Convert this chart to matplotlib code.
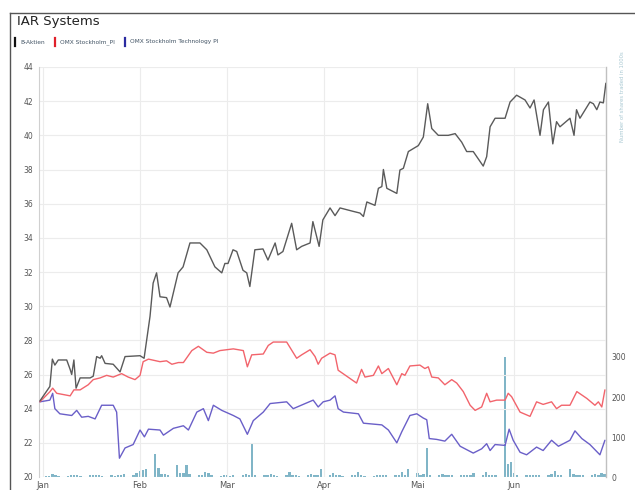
import matplotlib
matplotlib.use("Agg")
import matplotlib.pyplot as plt
from matplotlib.lines import Line2D
import pandas as pd
import numpy as np

# ---------------- data ----------------
title = "IAR Systems"
series_names = ["B-Aktien", "OMX Stockholm_PI", "OMX Stockholm Technology PI"]
month_labels = ["Jan", "Feb", "Mar", "Apr", "Mai", "Jun"]
month_days = [0, 31, 59, 90, 120, 151]          # days since 2017-01-01
left_ticks = [20, 22, 24, 26, 28, 30, 32, 34, 36, 38, 40, 42, 44]
right_ticks = [0, 100, 200, 300]

# B-Aktien (days since 2017-01-01, price)
days_b = [-1, 2.2, 3.0, 3.8, 4.9, 7.6, 8.7, 9.2, 9.9, 10.6, 11.9, 15.1, 16.1, 17.2, 18.3,
          18.8, 19.9, 22.5, 24.7, 26.3, 31.1, 32.4, 34.3, 35.3, 36.4, 37.5, 39.6, 40.7, 43.3, 44.9,
          47.1, 50.3, 52.5, 55.1, 57.3, 58.3, 59.3, 60.9, 62.1, 64.1, 65.3, 66.3, 67.9, 70.5, 72.1,
          74.4, 75.3, 76.9, 79.7, 81.3, 82.9, 85.6, 86.5, 88.5, 89.7, 92.0, 93.6, 95.2, 99.4, 101.6,
          102.7, 103.8, 106.4, 107.5, 108.6, 109.1, 110.2, 113.4, 114.4, 115.5, 117.1, 120.3, 121.9,
          123.3, 124.6, 126.7, 129.9, 132.1, 134.2, 135.8, 137.9, 141.1, 142.2, 143.3, 144.9, 148.1,
          149.7, 151.8, 154.5, 156.1, 157.4, 159.3, 160.4, 162.0, 163.4, 164.6, 165.7, 168.9, 170.2,
          171.0, 172.1, 175.3, 176.4, 177.5, 178.5, 179.6, 180.4]
vals_b = [24.45, 25.3, 26.9, 26.55, 26.85, 26.85, 26.3, 26.0, 26.85, 25.2, 25.8, 25.8, 25.9, 27.05, 26.95,
          27.1, 26.65, 26.6, 26.15, 27.05, 27.1, 26.95, 29.4, 31.35, 31.95, 30.55, 30.5, 29.95, 31.95, 32.3,
          33.7, 33.7, 33.3, 32.3, 31.95, 32.5, 32.5, 33.3, 33.2, 32.1, 31.95, 31.15, 33.3, 33.35, 32.7,
          33.7, 33.0, 33.2, 34.85, 33.3, 33.5, 33.7, 34.95, 33.5, 35.05, 35.75, 35.3, 35.75, 35.55, 35.45,
          35.25, 36.1, 35.9, 36.9, 37.0, 38.0, 36.9, 36.6, 37.97, 38.07, 39.05, 39.4, 39.9,
          41.85, 40.4, 40.0, 40.0, 40.1, 39.6, 39.05, 39.05, 38.2, 38.75, 40.5, 41.0, 41.0,
          41.95, 42.35, 42.07, 41.6, 42.07, 40.0, 41.5, 41.95, 39.5, 40.8, 40.5, 41.0, 40.0,
          41.5, 41.0, 41.95, 41.85, 41.5, 41.95, 41.9, 43.05]

# OMX Stockholm_PI (rebased to the price scale)
days_r = [-1, 2.2, 3.1, 4.4, 8.7, 9.9, 11.9, 14.5, 16.1, 18.3, 20.4, 22.5, 25.2, 27.3, 29.5, 31.1,
          32.1, 33.8, 37.5, 39.6, 41.3, 43.4, 45.0, 47.7, 49.8, 52.5, 54.6, 56.7, 61.0, 64.2, 65.5,
          66.9, 70.6, 72.2, 73.8, 78.1, 81.3, 82.9, 85.6, 87.2, 88.2, 89.3, 92.0, 93.6, 94.6, 100.5,
          102.1, 103.2, 105.9, 107.5, 108.6, 110.7, 113.4, 115.0, 116.0, 117.6, 120.8, 122.4, 123.5,
          124.6, 126.7, 128.8, 131.0, 132.6, 134.7, 136.9, 138.5, 140.6, 142.2, 143.3, 145.4, 148.1,
          149.1, 150.2, 152.9, 156.1, 158.2, 160.3, 163.0, 164.6, 166.2, 168.9, 171.1, 174.3, 176.9,
          178.0, 179.1, 180.1]
vals_r = [24.4, 24.99, 25.2, 24.9, 24.75, 25.1, 25.1, 25.4, 25.7, 25.8, 25.95, 25.85, 26.05, 25.85, 25.7, 25.95,
          26.75, 26.9, 26.75, 26.8, 26.6, 26.7, 26.7, 27.4, 27.65, 27.3, 27.25, 27.4, 27.5, 27.4, 26.45,
          27.15, 27.2, 27.7, 27.9, 27.9, 26.95, 27.15, 27.45, 27.05, 26.6, 26.95, 27.25, 27.15, 26.25, 25.5,
          26.3, 25.85, 25.95, 26.5, 26.05, 26.35, 25.4, 26.05, 25.95, 26.5, 26.55, 26.35, 26.45,
          25.85, 25.8, 25.4, 25.7, 25.5, 25.0, 24.2, 23.9, 24.1, 24.9, 24.4, 24.5, 24.5,
          24.9, 24.7, 23.8, 23.55, 24.4, 24.25, 24.4, 24.0, 24.2, 24.2, 25.0, 24.6, 24.2,
          24.4, 24.1, 25.1]

# OMX Stockholm Technology PI (rebased to the price scale)
days_t = [-1, 2.2, 3.1, 3.8, 5.4, 9.2, 10.8, 12.4, 14.5, 16.7, 18.8, 22.5, 23.6, 24.5, 26.3, 28.9,
          31.1, 32.5, 33.8, 37.5, 38.6, 41.8, 45.0, 46.6, 49.3, 51.4, 53.0, 54.6, 57.3, 61.0, 63.1,
          65.5, 67.4, 70.6, 72.8, 78.1, 80.2, 86.6, 88.2, 89.8, 92.0, 93.6, 94.6, 96.3, 101.1, 102.7,
          108.6, 110.7, 113.4, 115.0, 117.6, 119.8, 121.9, 123.0, 123.8, 126.2, 128.8, 131.0, 133.7,
          137.9, 140.6, 142.2, 143.3, 144.9, 148.1, 149.4, 150.7, 152.9, 155.0, 158.2, 160.3, 163.0,
          165.2, 168.9, 170.5, 172.7, 175.3, 178.5, 180.1]
vals_t = [24.4, 24.5, 24.9, 24.0, 23.7, 23.6, 23.9, 23.5, 23.55, 23.4, 24.2, 24.2, 23.8, 21.1, 21.7, 21.9,
          22.75, 22.35, 22.8, 22.75, 22.45, 22.85, 23.0, 22.75, 23.8, 24.0, 23.3, 24.2, 23.9, 23.6, 23.4,
          22.5, 23.3, 23.8, 24.3, 24.4, 24.0, 24.5, 24.1, 24.4, 24.5, 24.75, 24.0, 23.8, 23.7, 23.15,
          23.05, 22.75, 22.0, 22.65, 23.6, 23.7, 23.45, 23.35, 22.25, 22.2, 22.1, 22.5, 21.8,
          21.4, 21.65, 21.95, 21.55, 21.9, 21.85, 22.8, 22.15, 21.45, 21.3, 21.75, 21.55, 22.15,
          21.8, 22.15, 22.7, 22.25, 21.9, 21.3, 22.15]

# Daily volume (thousands of shares), one per weekday 2017-01-02 .. 2017-06-30
volume = [
    # Jan
    2, 3, 7, 6, 3, 3, 4, 5, 4, 3, 5, 6, 5, 4, 3, 4, 3, 5, 6, 8, 5, 11,
    # Feb
    15, 17, 19, 57, 23, 8, 7, 6, 29, 11, 10, 29, 8, 4, 5, 12, 10, 5, 3, 4,
    # Mar
    4, 3, 4, 5, 8, 5, 83, 4, 4, 5, 7, 4, 3, 5, 12, 6, 4, 3, 4, 8, 5, 4, 19,
    # Apr
    6, 11, 5, 4, 3, 4, 5, 13, 5, 3, 3, 5, 6, 4, 5, 4, 6, 13, 5, 19,
    # Mai
    11, 4, 8, 73, 6, 5, 7, 6, 4, 5, 4, 6, 5, 4, 11, 5, 13, 6, 4, 5, 300, 33, 38,
    # Jun
    11, 6, 4, 5, 6, 4, 5, 6, 8, 15, 6, 5, 19, 8, 5, 4, 5, 4, 8, 6, 9, 8,
]
vol_dates = pd.bdate_range("2017-01-02", "2017-06-30")
vol_days = np.asarray((vol_dates - pd.Timestamp("2017-01-01")).days, dtype=float)

# ---------------- figure ----------------
W, H = 635, 490
fig = plt.figure(figsize=(W / 100, H / 100), dpi=100)
fig.patch.set_facecolor("white")

x0, x1, ytop, ybot = 39, 606, 67, 477
ax2 = fig.add_axes([x0 / W, 1 - ybot / H, (x1 - x0) / W, (ybot - ytop) / H])   # volume
ax = fig.add_axes(ax2.get_position(), sharex=ax2)                               # prices
ax.patch.set_visible(False)
ax2.patch.set_visible(False)

# volume bars
ax2.bar(vol_days, volume, width=0.75, color="#80b5c7", edgecolor="none", zorder=2)
ax2.set_ylim(0, 1025)
ax2.yaxis.tick_right()
ax2.set_yticks(right_ticks)
ax2.set_yticklabels([str(t) for t in right_ticks])
ax2.tick_params(axis="y", length=0, pad=4, labelsize=5.5, labelcolor="#555555")
ax2.tick_params(axis="x", length=0, labelbottom=False)
for s in ["top", "bottom", "left"]:
    ax2.spines[s].set_visible(False)
ax2.spines["right"].set_color("#c0c0c0")
ax2.spines["right"].set_linewidth(1.0)

# price lines
kw = dict(lw=1.0, solid_joinstyle="round", solid_capstyle="round")
ax.plot(days_t, vals_t, color="#6a5fc8", zorder=3, **kw)
ax.plot(days_r, vals_r, color="#f2646c", zorder=3, **kw)
ax.plot(days_b, vals_b, color="#5a5a5a", zorder=4, **kw)

ax.set_ylim(20, 44)
ax.set_xlim((x0 - 43) / 3.12, (x1 - 43) / 3.12)
ax.set_yticks(left_ticks)
ax.set_yticklabels([str(t) for t in left_ticks])
ax.tick_params(axis="y", length=0, pad=4, labelsize=5.5, labelcolor="#555555")
ax.set_xticks(month_days)
ax.set_xticklabels(month_labels)
ax.tick_params(axis="x", length=0, pad=3, labelsize=6, labelcolor="#555555")
ax.grid(True, color="#ececec", lw=0.8)
ax.set_axisbelow(True)
for s in ["top", "bottom", "right"]:
    ax.spines[s].set_visible(False)
ax.spines["left"].set_color("#d0d0d0")
ax.spines["left"].set_linewidth(0.8)

# frame of the chart box
fig.add_artist(Line2D([10 / W, 1], [1 - 13 / H, 1 - 13 / H], transform=fig.transFigure,
                      color="#555555", lw=1.0))
fig.add_artist(Line2D([10 / W, 10 / W], [0, 1 - 13 / H], transform=fig.transFigure,
                      color="#555555", lw=1.0))

# title
fig.text(17 / W, 1 - 22 / H, title, fontsize=9.5, color="#222222", ha="left", va="center")

# legend
leg_colors = ["#111111", "#e0202a", "#2a2aa0"]
leg_x = [15, 55, 125]
for name, c, lx in zip(series_names, leg_colors, leg_x):
    fig.add_artist(Line2D([lx / W, lx / W], [1 - 46 / H, 1 - 38 / H], transform=fig.transFigure,
                          color=c, lw=1.6))
    fig.text((lx + 5) / W, 1 - 42 / H, name, fontsize=4.2, color="#445566",
             ha="left", va="center")

# right axis title
fig.text(623 / W, 1 - 97 / H, "Number of shares traded in 1000s", rotation=90,
         fontsize=3.8, color="#a8c8d2", ha="center", va="center")

fig.savefig("out.png", dpi=100)
